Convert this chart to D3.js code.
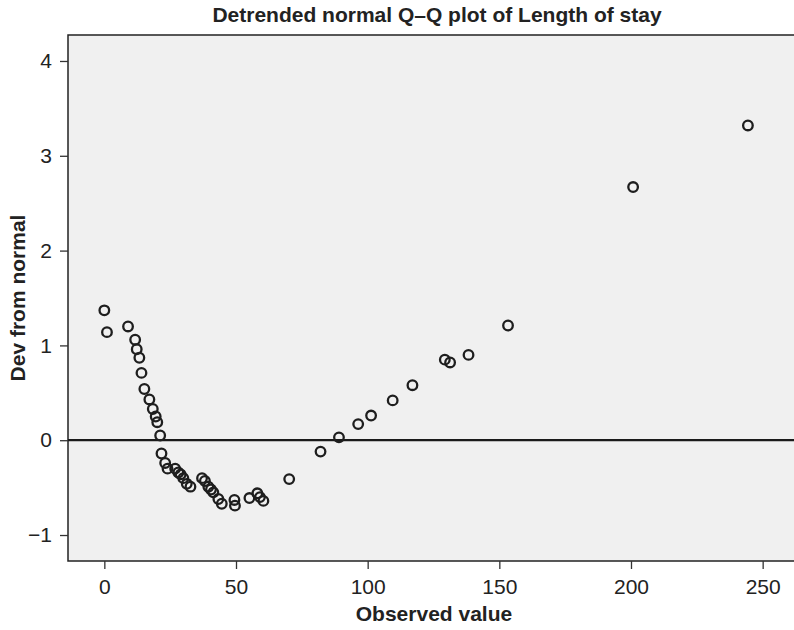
<!DOCTYPE html>
<html>
<head>
<meta charset="utf-8">
<script src="https://cdn.jsdelivr.net/npm/d3@7"></script>
<style>
  html, body { margin: 0; padding: 0; background: #fff; }
  svg { display: block; font-family: "Liberation Sans", Arial, Helvetica, sans-serif; }
</style>
</head>
<body>
<svg id="chart" width="794" height="630"></svg>
<script>
// Length of stay: observed values and their deviation from the normal expectation
const observed = [0, 1, 9, 11.7, 12.3, 13.3, 14.1, 15.2, 17.1, 18.4, 19.5, 20.1, 21.2, 21.7,
  23.1, 24.0, 26.9, 28.1, 29.0, 30.0, 31.3, 32.7, 37.1, 38.2, 39.5, 40.5, 41.4, 43.3, 44.6,
  49.4, 49.6, 55.1, 58.1, 59.1, 60.4, 70.2, 82.1, 89.1, 96.4, 101.3, 109.5, 117.0, 129.3,
  131.3, 138.3, 153.3, 200.8, 244.4];
const devFromNormal = [1.37, 1.14, 1.20, 1.06, 0.96, 0.87, 0.71, 0.54, 0.43, 0.33, 0.25, 0.19,
  0.05, -0.14, -0.24, -0.30, -0.30, -0.34, -0.36, -0.40, -0.46, -0.49, -0.40, -0.43, -0.49,
  -0.52, -0.55, -0.62, -0.67, -0.63, -0.69, -0.61, -0.56, -0.60, -0.64, -0.41, -0.12, 0.03,
  0.17, 0.26, 0.42, 0.58, 0.85, 0.82, 0.90, 1.21, 2.67, 3.32];
const xTicks = [0, 50, 100, 150, 200, 250];
const yTicks = [-1, 0, 1, 2, 3, 4];

const points = observed.map((v, i) => ({ x: v, y: devFromNormal[i] }));

const svg = d3.select("#chart");
const frame = { left: 68, top: 35, right: 799, bottom: 561 };

const x = d3.scaleLinear().domain([-13.8, 263.8]).range([frame.left, frame.right]);
const y = d3.scaleLinear().domain([-1.274, 4.274]).range([frame.bottom, frame.top]);

// Plot panel
svg.append("rect")
  .attr("x", frame.left).attr("y", frame.top)
  .attr("width", frame.right - frame.left).attr("height", frame.bottom - frame.top)
  .attr("fill", "#f0f0f0").attr("stroke", "#222").attr("stroke-width", 1.5);

// Axes
const xAxis = svg.append("g")
  .attr("transform", `translate(0,${frame.bottom})`)
  .call(d3.axisBottom(x).tickValues(xTicks).tickSize(8).tickPadding(10).tickFormat(d3.format("d")));
const yAxis = svg.append("g")
  .attr("transform", `translate(${frame.left},0)`)
  .call(d3.axisLeft(y).tickValues(yTicks).tickSize(8).tickPadding(8)
    .tickFormat(d => d < 0 ? "\u2212" + Math.abs(d) : d));

[xAxis, yAxis].forEach(g => {
  g.select(".domain").remove();
  g.selectAll(".tick line").attr("stroke", "#333").attr("stroke-width", 1.3);
  g.selectAll(".tick text").attr("fill", "#222").style("font-size", "21px");
});

// Zero reference line
svg.append("line")
  .attr("x1", frame.left).attr("x2", frame.right)
  .attr("y1", y(0)).attr("y2", y(0))
  .attr("stroke", "#1a1a1a").attr("stroke-width", 2.2);

// Points
svg.append("g")
  .selectAll("circle")
  .data(points)
  .join("circle")
  .attr("cx", d => x(d.x))
  .attr("cy", d => y(d.y))
  .attr("r", 4.8)
  .attr("fill", "none")
  .attr("stroke", "#1e1e1e")
  .attr("stroke-width", 2.3);

// Titles
svg.append("text")
  .attr("x", 437).attr("y", 22)
  .attr("text-anchor", "middle")
  .style("font-weight", "bold").style("font-size", "21px").attr("fill", "#222")
  .text("Detrended normal Q\u2013Q plot of Length of stay");

svg.append("text")
  .attr("x", 434).attr("y", 621)
  .attr("text-anchor", "middle")
  .style("font-weight", "bold").style("font-size", "21px").attr("fill", "#222")
  .text("Observed value");

svg.append("text")
  .attr("transform", `translate(25,${(frame.top + frame.bottom) / 2}) rotate(-90)`)
  .attr("text-anchor", "middle")
  .style("font-weight", "bold").style("font-size", "21px").attr("fill", "#222")
  .text("Dev from normal");
</script>
</body>
</html>
